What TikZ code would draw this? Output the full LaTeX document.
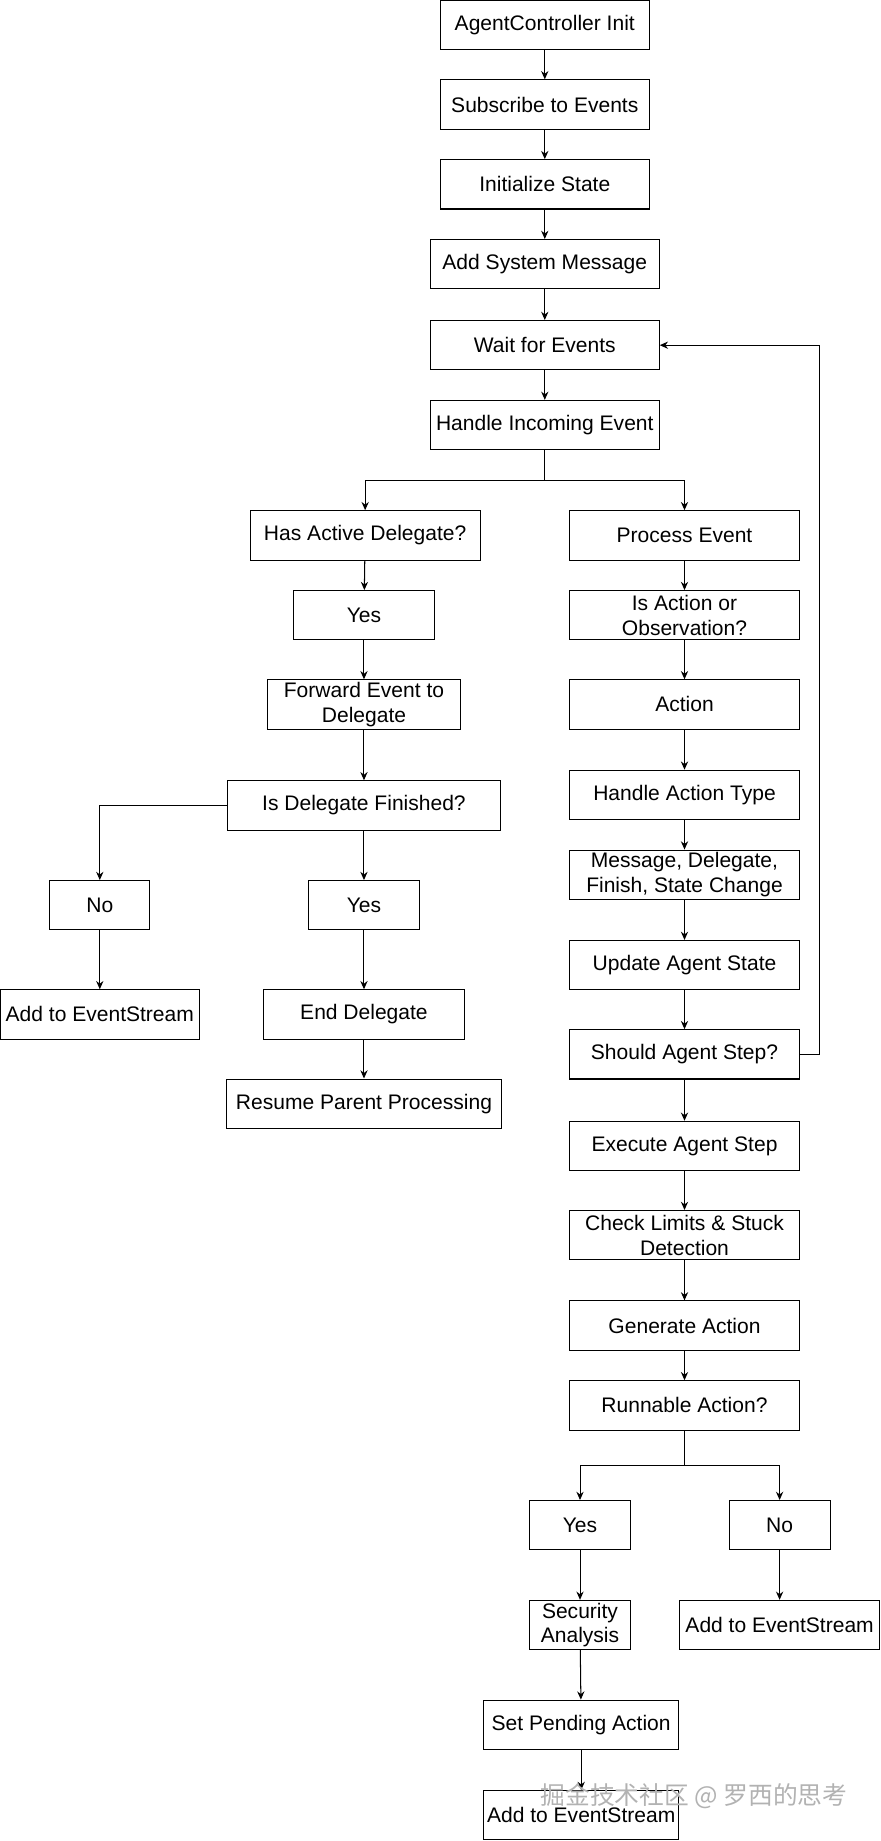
\documentclass[tikz,border=0pt]{standalone}
\usepackage{fontspec}
\setmainfont{Liberation Sans}
\newfontfamily\cjk{Noto Sans CJK SC}
\usetikzlibrary{arrows.meta}
\begin{document}
\begin{tikzpicture}[x=0.02cm,y=-0.02cm,
  box/.style={draw,line width=0.5pt,inner sep=0pt,align=center,minimum height=0.84cm,font=\fontsize{10.2}{12}\selectfont},
  arr/.style={-{Stealth[length=4pt,width=3.5pt]},line width=0.5pt}]
\useasboundingbox (0,0) rectangle (750,1568);
\node[box,minimum width=3.56cm] (n1) at (464,21) {AgentController Init};
\node[box,minimum width=3.56cm] (n2) at (464,89) {Subscribe to Events};
\node[box,minimum width=3.56cm] (n3) at (464,157) {Initialize State};
\node[box,minimum width=3.9cm] (n4) at (464,225) {Add System Message};
\node[box,minimum width=3.9cm] (n5) at (464,294) {Wait for Events};
\node[box,minimum width=3.9cm] (n6) at (464,362) {Handle Incoming Event};
\node[box,minimum width=3.92cm] (n7) at (311,456) {Has Active Delegate?};
\node[box,minimum width=2.4cm] (n8) at (310,524) {Yes};
\node[box,minimum width=3.3cm] (n9) at (310,600) {Forward Event to\\Delegate};
\node[box,minimum width=4.64cm] (n10) at (310,686) {Is Delegate Finished?};
\node[box,minimum width=1.7cm] (n11) at (85,771) {No};
\node[box,minimum width=3.4cm] (n12) at (85,864) {Add to EventStream};
\node[box,minimum width=1.9cm] (n13) at (310,771) {Yes};
\node[box,minimum width=3.42cm] (n14) at (310,864) {End Delegate};
\node[box,minimum width=4.68cm] (n15) at (310,940) {Resume Parent Processing};
\node[box,minimum width=3.92cm] (n16) at (583,456) {Process Event};
\node[box,minimum width=3.92cm] (n17) at (583,524) {Is Action or\\Observation?};
\node[box,minimum width=3.92cm] (n18) at (583,600) {Action};
\node[box,minimum width=3.92cm] (n19) at (583,677) {Handle Action Type};
\node[box,minimum width=3.92cm] (n20) at (583,745) {Message, Delegate,\\Finish, State Change};
\node[box,minimum width=3.92cm] (n21) at (583,822) {Update Agent State};
\node[box,minimum width=3.92cm] (n22) at (583,898) {Should Agent Step?};
\node[box,minimum width=3.92cm] (n23) at (583,976) {Execute Agent Step};
\node[box,minimum width=3.92cm] (n24) at (583,1052) {Check Limits \& Stuck\\Detection};
\node[box,minimum width=3.92cm] (n25) at (583,1129) {Generate Action};
\node[box,minimum width=3.92cm] (n26) at (583,1197) {Runnable Action?};
\node[box,minimum width=1.72cm] (n27) at (494,1299) {Yes};
\node[box,minimum width=1.72cm] (n28) at (664,1299) {No};
\node[box,minimum width=1.72cm] (n29) at (494,1384) {Security\\Analysis};
\node[box,minimum width=3.4cm] (n30) at (664,1384) {Add to EventStream};
\node[box,minimum width=3.32cm] (n31) at (495,1469) {Set Pending Action};
\node[box,minimum width=3.32cm] (n32) at (495,1546) {Add to EventStream};
\foreach \a/\b in {n1/n2,n2/n3,n3/n4,n4/n5,n5/n6,n7/n8,n8/n9,n9/n10,n11/n12,n13/n14,n14/n15,
  n16/n17,n17/n18,n18/n19,n19/n20,n20/n21,n21/n22,n22/n23,n23/n24,n24/n25,n25/n26,n27/n29,n28/n30,n29/n31,n31/n32}
  \draw[arr] (\a) -- (\b);
\draw[arr] (n6.south) |- (311,409) -- (n7.north);
\draw[arr] (n6.south) |- (583,409) -- (n16.north);
\draw[arr] (n10.west) -| (n11.north);
\draw[arr] (n10.south) -- (n13.north);
\draw[arr] (n22.east) -- (698,898) |- (n5.east);
\draw[arr] (n26.south) |- (494,1248) -- (n27.north);
\draw[arr] (n26.south) |- (664,1248) -- (n28.north);
\node[font=\cjk\fontsize{12}{14}\selectfont,text=gray!60,anchor=east] (wm) at (728,1530) {掘金技术社区 @ 罗西的思考};
\end{tikzpicture}
\end{document}
